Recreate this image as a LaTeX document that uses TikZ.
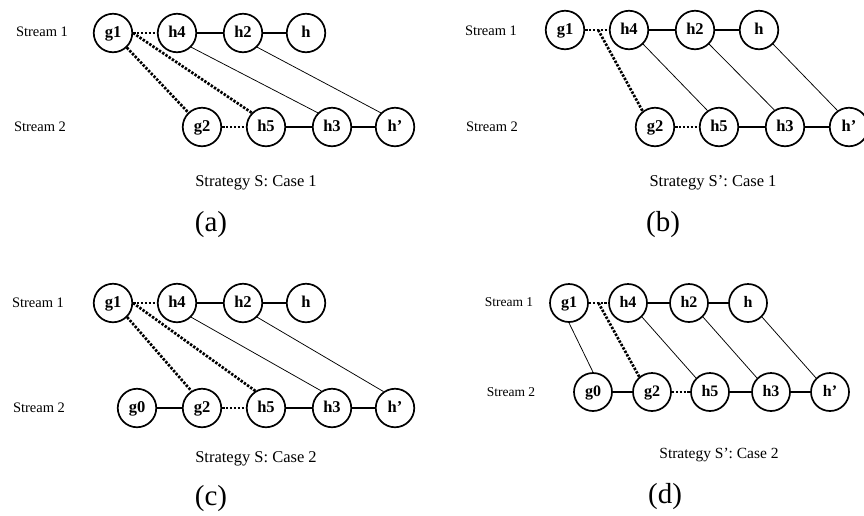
\documentclass[tikz,border=0pt]{standalone}
\usepackage{fontspec}
\setmainfont{Liberation Serif}
\usetikzlibrary{calc}
\tikzset{
  nd/.style={circle, draw, line width=1.7pt, minimum size=38.5pt, inner sep=0pt,
    text height=10pt, text depth=2pt,
    font=\bfseries\fontsize{16.5}{17}\selectfont},
  ndd/.style={nd, minimum size=38pt, font=\bfseries\fontsize{16}{16}\selectfont},
  lbl/.style={font=\fontsize{14.5}{15}\selectfont},
  lbld/.style={font=\fontsize{13.5}{14}\selectfont},
  captxt/.style={font=\fontsize{16.5}{17}\selectfont},
  captxtd/.style={font=\fontsize{15.5}{16}\selectfont},
  subl/.style={font=\fontsize{29}{30}\selectfont},
  dotl/.style={line width=2.7pt, dash pattern=on 2.4pt off 1.5pt},
  lnk/.style={line width=1.2pt},
  thn/.style={line width=0.75pt}
}
\begin{document}
\begin{tikzpicture}[x=1pt,y=-1pt]
\useasboundingbox (0,0) rectangle (864,515);
% ---------- (a)
\node[lbl] (a-s1) at (42,32) {Stream 1};
\node[lbl] (a-s2) at (40,127) {Stream 2};
\node[nd] (a-g1) at (113,33) {g1};
\node[nd] (a-h4) at (177,33) {h4};
\node[nd] (a-h2) at (243,33) {h2};
\node[nd] (a-h) at (306,33) {h};
\node[nd] (a-g2) at (202,127) {g2};
\node[nd] (a-h5) at (266,127) {h5};
\node[nd] (a-h3) at (332,127) {h3};
\node[nd] (a-hp) at (395,127) {h’};
\draw[dotl] (a-g1) -- (a-h4);
\draw[dotl] (a-g1.east) -- (a-h5.north west);
\draw[dotl] (a-g1) -- (a-g2);
\draw[dotl] (a-g2) -- (a-h5);
\draw[lnk] (a-h4) -- (a-h2);
\draw[lnk] (a-h2) -- (a-h);
\draw[lnk] (a-h5) -- (a-h3);
\draw[lnk] (a-h3) -- (a-hp);
\draw[thn] (a-h4.south east) -- (a-h3.north west);
\draw[thn] (a-h2.south east) -- (a-hp.north west);
\node[captxt] (a-cap) at (256,183) {Strategy S: Case 1};
\node[subl] (a-sub) at (211,225) {(a)};
% ---------- (b)
\node[lbl] (b-s1) at (491,31) {Stream 1};
\node[lbl] (b-s2) at (492,127) {Stream 2};
\node[nd] (b-g1) at (565,30) {g1};
\node[nd] (b-h4) at (629,30) {h4};
\node[nd] (b-h2) at (695,30) {h2};
\node[nd] (b-h) at (759,30) {h};
\node[nd] (b-g2) at (655,127) {g2};
\node[nd] (b-h5) at (719,127) {h5};
\node[nd] (b-h3) at (785,127) {h3};
\node[nd] (b-hp) at (849,127) {h’};
\coordinate (b-m) at ($(b-g1.east)!0.55!(b-h4.west)$);
\draw[dotl] (b-g1) -- (b-h4);
\draw[dotl] (b-m) -- (b-g2.128);
\draw[dotl] (b-g2) -- (b-h5);
\draw[lnk] (b-h4) -- (b-h2);
\draw[lnk] (b-h2) -- (b-h);
\draw[lnk] (b-h5) -- (b-h3);
\draw[lnk] (b-h3) -- (b-hp);
\draw[thn] (b-h4.south east) -- (b-h5.125);
\draw[thn] (b-h2.south east) -- (b-h3.122);
\draw[thn] (b-h.south east) -- (b-hp.125);
\node[captxt] (b-cap) at (713,183) {Strategy S’: Case 1};
\node[subl] (b-sub) at (663,225) {(b)};
% ---------- (c)
\node[lbl] (c-s1) at (38,303) {Stream 1};
\node[lbl] (c-s2) at (39,408) {Stream 2};
\node[nd] (c-g1) at (113,303) {g1};
\node[nd] (c-h4) at (177,303) {h4};
\node[nd] (c-h2) at (243,303) {h2};
\node[nd] (c-h) at (306,303) {h};
\node[nd] (c-g0) at (137,408) {g0};
\node[nd] (c-g2) at (202,408) {g2};
\node[nd] (c-h5) at (266,408) {h5};
\node[nd] (c-h3) at (332,408) {h3};
\node[nd] (c-hp) at (395,408) {h’};
\draw[dotl] (c-g1) -- (c-h4);
\draw[dotl] (c-g1.east) -- (c-h5.122);
\draw[dotl] (c-g1.south east) -- (c-g2.122);
\draw[dotl] (c-g2) -- (c-h5);
\draw[lnk] (c-h4) -- (c-h2);
\draw[lnk] (c-h2) -- (c-h);
\draw[lnk] (c-g0) -- (c-g2);
\draw[lnk] (c-h5) -- (c-h3);
\draw[lnk] (c-h3) -- (c-hp);
\draw[thn] (c-h4.south east) -- (c-h3.122);
\draw[thn] (c-h2.south east) -- (c-hp.125);
\node[captxt] (c-cap) at (256,459) {Strategy S: Case 2};
\node[subl] (c-sub) at (211,499) {(c)};
% ---------- (d)
\node[lbld] (d-s1) at (509,302) {Stream 1};
\node[lbld] (d-s2) at (511,392) {Stream 2};
\node[ndd] (d-g1) at (569,303) {g1};
\node[ndd] (d-h4) at (628,303) {h4};
\node[ndd] (d-h2) at (689,303) {h2};
\node[ndd] (d-h) at (748,303) {h};
\node[ndd] (d-g0) at (593,392) {g0};
\node[ndd] (d-g2) at (652,392) {g2};
\node[ndd] (d-h5) at (710,392) {h5};
\node[ndd] (d-h3) at (771,392) {h3};
\node[ndd] (d-hp) at (830,392) {h’};
\coordinate (d-m) at ($(d-g1.east)!0.5!(d-h4.west)$);
\draw[dotl] (d-g1) -- (d-h4);
\draw[dotl] (d-m) -- (d-g2.130);
\draw[dotl] (d-g2) -- (d-h5);
\draw[lnk] (d-h4) -- (d-h2);
\draw[lnk] (d-h2) -- (d-h);
\draw[lnk] (d-g0) -- (d-g2);
\draw[lnk] (d-h5) -- (d-h3);
\draw[lnk] (d-h3) -- (d-hp);
\draw[thn] (d-g1.south) -- (d-g0.north);
\draw[thn] (d-h4.south east) -- (d-h5.north west);
\draw[thn] (d-h2.south east) -- (d-h3.north west);
\draw[thn] (d-h.south east) -- (d-hp.north west);
\node[captxtd] (d-cap) at (719,455) {Strategy S’: Case 2};
\node[subl] (d-sub) at (665,497) {(d)};
\end{tikzpicture}
\end{document}
